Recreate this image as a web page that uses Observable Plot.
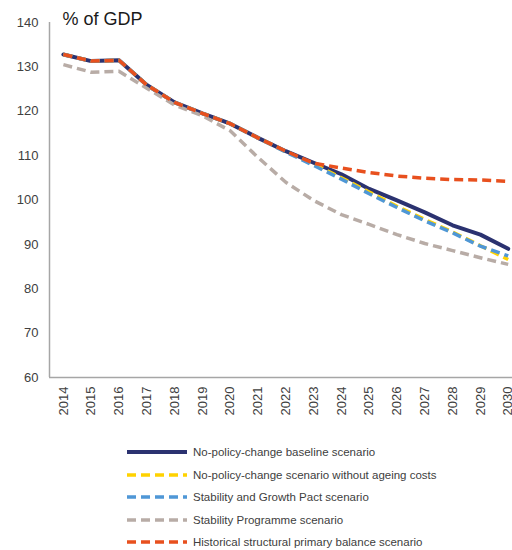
<!DOCTYPE html>
<html>
<head>
<meta charset="utf-8">
<script src="https://cdn.jsdelivr.net/npm/d3@7"></script>
<script src="https://cdn.jsdelivr.net/npm/@observablehq/plot@0.6"></script>
<style>
  html, body { margin: 0; padding: 0; background: #fff; }
  body { width: 512px; height: 550px; overflow: hidden; font-family: "Liberation Sans", Arial, sans-serif; position: relative; }
  #legend { position: absolute; left: 127px; top: 441px; }
  .row { display: flex; align-items: center; height: 22.5px; font-size: 11.5px; color: #404040; }
  .row svg { margin-right: 6px; }
</style>
</head>
<body>
<div id="chart"></div>
<div id="legend"></div>
<script>
const years = [2014,2015,2016,2017,2018,2019,2020,2021,2022,2023,2024,2025,2026,2027,2028,2029,2030];
const baseline = [132.8,131.3,131.5,125.9,122.0,119.5,117.2,114.0,111.0,108.4,105.8,102.5,99.9,97.2,94.3,92.2,89.0];
const noAgeing = [132.8,131.3,131.5,125.9,122.0,119.5,117.2,114.0,110.9,108.1,105.0,101.8,98.6,95.6,92.8,89.7,86.6];
const sgp = [132.8,131.3,131.5,125.9,122.0,119.5,117.2,114.0,110.8,107.8,104.7,101.4,98.3,95.3,92.6,89.6,87.4];
const stabProg = [130.5,128.8,129.0,125.2,121.4,119.0,115.6,109.6,104.0,99.9,96.7,94.5,92.2,90.2,88.6,87.0,85.5];
const historical = [132.8,131.3,131.5,125.9,122.0,119.5,117.2,114.0,111.0,108.3,107.2,106.2,105.4,104.9,104.6,104.5,104.2];
const yTicks = [60,70,80,90,100,110,120,130,140];

const seriesNames = [
  "No-policy-change baseline scenario",
  "No-policy-change scenario without ageing costs",
  "Stability and Growth Pact scenario",
  "Stability Programme scenario",
  "Historical structural primary balance scenario"
];
const seriesValues = [baseline, noAgeing, sgp, stabProg, historical];
const seriesColors = ["#2b3270", "#ffd200", "#4f97d6", "#b8aca6", "#e8501e"];
const seriesWidths = [4, 3.5, 3.5, 3.5, 3.5];
const seriesDash = [null, "9,5", "9,5", "9,5", "9,5"];

const rows = (vals) => years.map((y, i) => ({year: y, value: vals[i]}));

const lineMarks = seriesValues.map((vals, k) =>
  Plot.line(rows(vals), {
    x: "year", y: "value",
    stroke: seriesColors[k],
    strokeWidth: seriesWidths[k],
    strokeDasharray: seriesDash[k],
    strokeLinejoin: "round",
    strokeLinecap: seriesDash[k] ? "butt" : "round"
  })
);

const chart = Plot.plot({
  width: 512,
  height: 432,
  marginLeft: 49,
  marginRight: 0,
  marginTop: 22,
  marginBottom: 55,
  style: {fontFamily: "'Liberation Sans', Arial, sans-serif", color: "#404040", background: "#fff"},
  x: {type: "linear", domain: [years[0] - 0.5, years[years.length - 1] + 0.5], range: [49, 49 + 27.8 * years.length]},
  y: {domain: [yTicks[0], yTicks[yTicks.length - 1]]},
  marks: [
    Plot.ruleY([yTicks[0]], {stroke: "#a6a6a6", strokeWidth: 1.5}),
    Plot.ruleX([years[0] - 0.5], {stroke: "#a6a6a6", strokeWidth: 1.5}),
    Plot.axisY({ticks: yTicks, tickSize: 0, tickPadding: 11, fontSize: 13, label: null, tickFormat: d => String(d)}),
    Plot.axisX({ticks: years, tickSize: 0, tickPadding: 9, tickRotate: -90, fontSize: 13, label: null, tickFormat: d => String(d)}),
    ...lineMarks,
    Plot.text(["% of GDP"], {frameAnchor: "top-left", dx: 13, dy: 2, textAnchor: "start", lineAnchor: "bottom", fontSize: 18, fill: "#1a1a1a"})
  ]
});
document.getElementById("chart").appendChild(chart);

const legend = document.getElementById("legend");
seriesNames.forEach((name, k) => {
  const row = document.createElement("div");
  row.className = "row";
  const dash = seriesDash[k] ? `stroke-dasharray="${seriesDash[k]}"` : "";
  row.innerHTML = `<svg width="60" height="8"><line x1="0" y1="4" x2="60" y2="4" stroke="${seriesColors[k]}" stroke-width="${seriesWidths[k]}" ${dash}/></svg><span>${name}</span>`;
  legend.appendChild(row);
});
</script>
</body>
</html>
